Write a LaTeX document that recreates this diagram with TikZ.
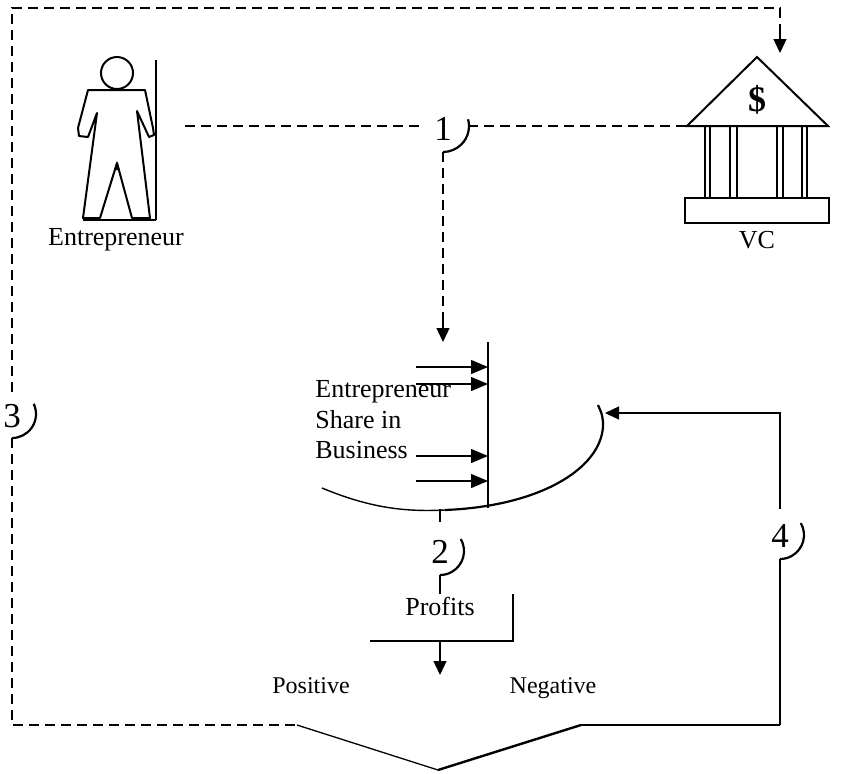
\documentclass[tikz,border=0pt]{standalone}
\usepackage{fontspec}
\setmainfont{Liberation Serif}
\usetikzlibrary{arrows.meta}
\begin{document}
\begin{tikzpicture}[x=0.5pt,y=-0.5pt,
  dashline/.style={dash pattern=on 5pt off 3pt, line width=0.65pt},
  thinline/.style={line width=0.65pt},
  shape line/.style={line width=1pt},
  txt/.style={font=\fontsize{13}{15}\selectfont, inner sep=0pt},
  numlab/.style={font=\fontsize{17.5}{19}\selectfont, inner sep=0pt},
  smalltxt/.style={font=\fontsize{12}{14}\selectfont, inner sep=0pt},
  tipd/.style={-{Triangle[length=7pt,width=6.5pt]}},
  tipr/.style={-{Triangle[length=8.5pt,width=7pt]}},
  labarc/.style={line width=1.1pt},
]
\useasboundingbox (0,0) rectangle (847,773);

% ---------- Entrepreneur figure ----------
\draw[shape line, fill=white] (117,73) circle[radius=16];
\draw[shape line, line join=round, fill=white]
  (88,90) -- (145,90) -- (153,128) -- (154,135) -- (149,137) -- (137,111)
  -- (150,218) -- (132,218) -- (117,163) -- (100,218) -- (83,218)
  -- (97,113) -- (88,137) -- (79,136) -- (78,128) -- cycle;
\fill (117,161) -- (114,170) -- (120,170) -- cycle;
\draw[line width=1.1pt] (156,60) -- (156,220);
\draw[line width=1.1pt] (83,220) -- (156,220);
\node[txt, anchor=base] (entname) at (116,245) {Entrepreneur};
\coordinate (entR) at (185,126);

% ---------- VC bank ----------
\draw[shape line, line join=miter, fill=white] (687,126) -- (757,57) -- (828,126) -- cycle;
\node[font=\fontsize{18}{20}\selectfont\bfseries, inner sep=0pt] (dollar) at (757,100) {\$};
\foreach \a/\b in {705/710, 730/737, 777/783, 802/807}{
  \draw[line width=0.9pt] (\a,126) rectangle (\b,198);
}
\draw[shape line, fill=white] (685,198) rectangle (829,223);
\node[txt, anchor=base] (vc) at (757,248) {VC};
\coordinate (bankL) at (687,126);
\coordinate (bankTop) at (780,53);

% ---------- label 1 ----------
\node[numlab, anchor=base] (l1) at (443,140) {1};
\draw[labarc] (443,126) ++(-15:26) arc[start angle=-15, end angle=90, radius=26];
\coordinate (l1L) at (422,126);
\coordinate (l1R) at (468,126);
\coordinate (l1B) at (443,152);

% ---------- outer loop (3) ----------
\node[numlab, anchor=base] (l3) at (12,427) {3};
\draw[labarc] (12,414) ++(-25:24) arc[start angle=-25, end angle=90, radius=24];
\coordinate (l3T) at (12,392);
\coordinate (l3B) at (12,438);
\coordinate (cTL) at (12,8);
\coordinate (cTR) at (780,8);
\coordinate (cBL) at (12,725);
\coordinate (vL) at (297,725);
\coordinate (vB) at (438,770);
\coordinate (vR) at (581,725);
\coordinate (cBR) at (780,725);

\draw[dashline] (l3T) -- (cTL) -- (cTR) -- ++(0,25);
\draw[thinline, tipd] (780,32) -- (bankTop);
\draw[dashline] (l3B) -- (cBL) -- (vL);
\draw[thinline] (vL) -- (vB);
\draw[line width=1.2pt] (vB) -- (vR);
\draw[thinline] (vR) -- (cBR);

% ---------- connectors from 1 ----------
\draw[dashline] (entR) -- (l1L);
\draw[dashline] (l1R) -- (bankL);
\draw[dashline] (l1B) -- (443,322);
\coordinate (shareTop) at (443,342);
\draw[thinline, tipd] (443,322) -- (shareTop);

% ---------- share in business ----------
\draw[line width=0.9pt] (488,342) -- (488,508);
\foreach \yy in {367,384,456,481}{
  \draw[thinline, tipr] (416,\yy) -- (488,\yy);
}
\node[txt, anchor=base west] (s1) at (315,397) {Entrepreneur};
\node[txt, anchor=base west] (s2) at (315,428) {Share in};
\node[txt, anchor=base west] (s3) at (315,458) {Business};
\draw[line width=0.7pt] (322,488) .. controls (370,508) and (405,512) .. (445,510);
\draw[line width=1.1pt] (445,510)
  .. controls (545,506) and (605,465) .. (603,422) .. controls (602,414) .. (598,405);
\coordinate (shareR) at (605,413);
\coordinate (shareB) at (440,509);

% ---------- label 2 and profits ----------
\node[numlab, anchor=base] (l2) at (440,563) {2};
\draw[labarc] (440,551) ++(-30:24) arc[start angle=-30, end angle=90, radius=24];
\draw[thinline] (shareB) -- (440,522);
\coordinate (l2B) at (440,575);
\node[txt, anchor=base] (profits) at (440,615) {Profits};
\draw[thinline] (l2B) -- (440,594);
\draw[thinline] (513,594) -- (513,641) -- (370,641);
\coordinate (profB) at (440,641);
\coordinate (profTip) at (440,675);
\draw[thinline, tipd] (profB) -- (profTip);
\node[smalltxt, anchor=base] (pos) at (311,693) {Positive};
\node[smalltxt, anchor=base] (neg) at (553,693) {Negative};

% ---------- label 4 ----------
\node[numlab, anchor=base] (l4) at (780,547) {4};
\draw[labarc] (780,535) ++(-30:24) arc[start angle=-30, end angle=90, radius=24];
\coordinate (l4B) at (780,559);
\coordinate (l4T) at (780,509);
\draw[thinline] (cBR) -- (l4B);
\draw[thinline, tipd] (l4T) -- (780,413) -- (shareR);

\end{tikzpicture}
\end{document}
